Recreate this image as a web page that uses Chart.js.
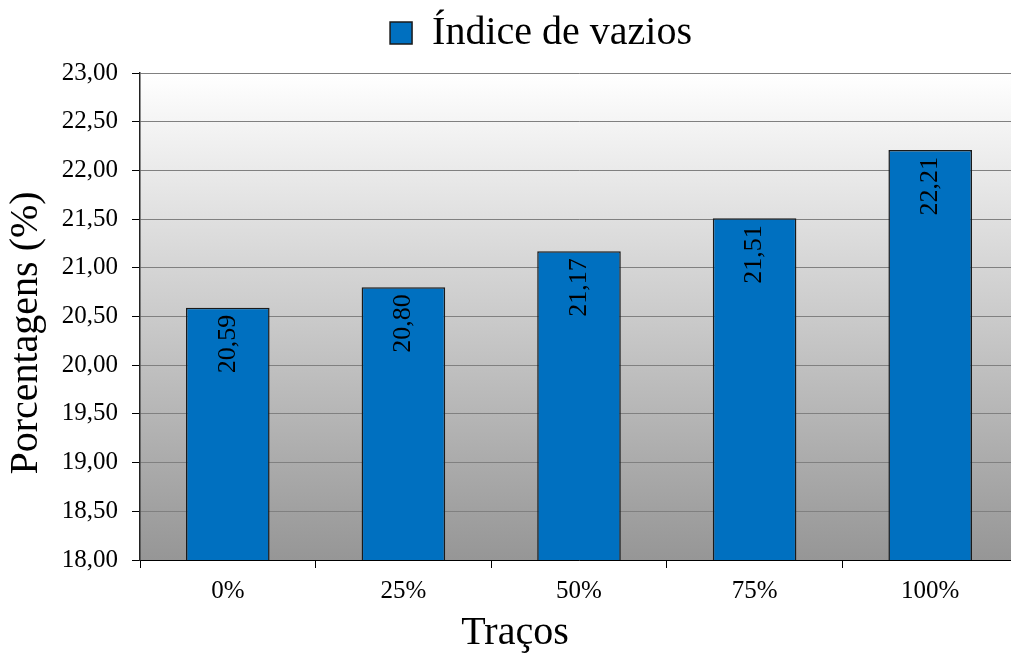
<!DOCTYPE html>
<html>
<head>
<meta charset="utf-8">
<script src="https://cdn.jsdelivr.net/npm/chart.js@4/dist/chart.umd.min.js"></script>
<style>
  html, body { margin: 0; padding: 0; background: #fff; overflow: hidden; }
  #wrap { width: 1011px; height: 657px; overflow: hidden; position: relative; }
  #c { position: absolute; left: 0; top: 0; }
</style>
</head>
<body>
<div id="wrap"><canvas id="c" width="1018" height="657"></canvas></div>
<script>
const categories = ['0%', '25%', '50%', '75%', '100%'];
const seriesName = 'Índice de vazios';
const values = [20.59, 20.80, 21.17, 21.51, 22.21];
const yMin = 18, yMax = 23, yStep = 0.5;
const yTitle = 'Porcentagens (%)';
const xTitle = 'Traços';

const FONT = "'Liberation Serif', 'Times New Roman', serif";
const fmt = v => Number(v).toFixed(2).replace('.', ',');

const bgPlugin = {
  id: 'bgGradient',
  beforeDraw(chart) {
    const {ctx, chartArea: a} = chart;
    const g = ctx.createLinearGradient(0, a.top, 0, a.bottom);
    g.addColorStop(0, '#ffffff');
    g.addColorStop(1, '#969696');
    ctx.save();
    ctx.fillStyle = g;
    ctx.fillRect(a.left, a.top, a.right - a.left, a.bottom - a.top);
    ctx.restore();
  }
};

const labelPlugin = {
  id: 'barLabels',
  afterDatasetsDraw(chart) {
    const {ctx} = chart;
    const meta = chart.getDatasetMeta(0);
    ctx.save();
    ctx.font = "26px " + FONT;
    ctx.fillStyle = '#000';
    meta.data.forEach((bar, i) => {
      ctx.save();
      ctx.translate(bar.x, bar.y + 7);
      ctx.rotate(-Math.PI / 2);
      ctx.textAlign = 'right';
      ctx.textBaseline = 'middle';
      ctx.fillText(fmt(chart.data.datasets[0].data[i]), 0, 0);
      ctx.restore();
    });
    ctx.restore();
  }
};

const yTitlePlugin = {
  id: 'yTitleText',
  afterDraw(chart) {
    const {ctx} = chart;
    ctx.save();
    ctx.font = "40px " + FONT;
    ctx.fillStyle = '#000';
    ctx.translate(26, 333);
    ctx.rotate(-Math.PI / 2);
    ctx.textAlign = 'center';
    ctx.textBaseline = 'middle';
    ctx.fillText(yTitle, 0, 0);
    ctx.restore();
  }
};

const shiftPlugin = {
  id: 'shiftBlocks',
  afterLayout(chart) {
    if (chart.legend) {
      chart.legend.left += 32; chart.legend.right += 32;
      chart.legend.top -= 10; chart.legend.bottom -= 10;
    }
    if (chart.titleBlock) { chart.titleBlock.left += 6; chart.titleBlock.right += 6; }
  }
};

new Chart(document.getElementById('c'), {
  type: 'bar',
  data: {
    labels: categories,
    datasets: [{
      label: seriesName,
      data: values,
      backgroundColor: '#0070C0',
      borderColor: '#1a1a1a',
      borderWidth: 1.5,
      borderSkipped: false,
      barPercentage: 0.476,
      categoryPercentage: 1.0
    }]
  },
  options: {
    responsive: false,
    animation: false,
    devicePixelRatio: 1,
    layout: { padding: { left: 0, right: 0, top: 17, bottom: 0 } },
    plugins: {
      legend: {
        position: 'top',
        labels: {
          font: { family: FONT, size: 40 },
          color: '#000',
          boxWidth: 22,
          boxHeight: 22,
          padding: 6
        }
      },
      title: {
        display: true,
        position: 'bottom',
        text: xTitle,
        color: '#000',
        font: { family: FONT, size: 40, weight: 'normal', lineHeight: 1.0 },
        padding: { top: 0, bottom: 4 }
      },
      tooltip: { enabled: false }
    },
    scales: {
      x: {
        offset: true,
        grid: { offset: true, drawOnChartArea: false, drawTicks: true, tickLength: 8, tickColor: '#000' },
        border: { color: '#000', width: 1 },
        ticks: { font: { family: FONT, size: 25 }, color: '#000', padding: 8 },
        afterFit(s) { s.height = 53; }
      },
      y: {
        min: yMin, max: yMax,
        ticks: {
          stepSize: yStep,
          font: { family: FONT, size: 25 },
          color: '#000',
          padding: 14,
          callback: v => fmt(v)
        },
        grid: { color: '#808080', lineWidth: 1, tickLength: 8, tickColor: '#000' },
        border: { color: '#222', width: 1.5 },
        title: { display: false, text: yTitle },
        afterFit(s) { s.width = 140; }
      }
    }
  },
  plugins: [bgPlugin, labelPlugin, yTitlePlugin, shiftPlugin]
});
</script>
</body>
</html>
